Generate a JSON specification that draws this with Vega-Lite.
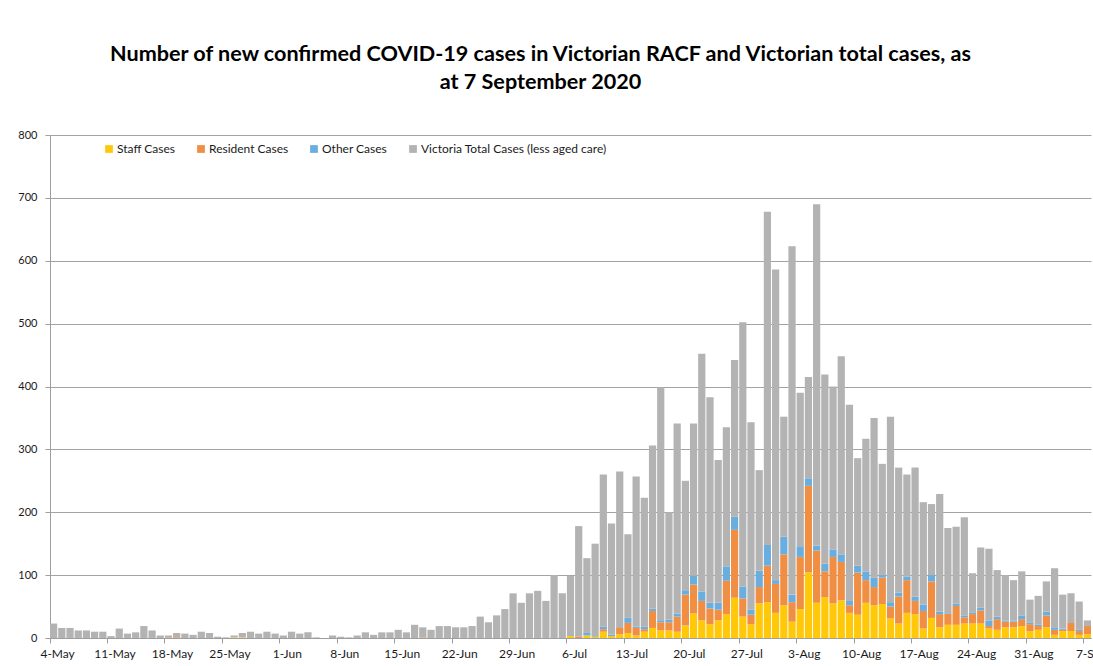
{
  "$schema": "https://vega.github.io/schema/vega-lite/v6.json",
  "width": 1041,
  "height": 503,
  "autosize": "none",
  "padding": {"left": 50, "top": 135, "right": 2, "bottom": 28},
  "background": "white",
  "config": {"view": {"stroke": null}, "font": "Lato"},
  "title": {
    "text": ["Number of new confirmed COVID-19 cases in Victorian RACF and Victorian total cases, as", "at 7 September 2020"],
    "fontSize": 21.6,
    "fontWeight": "bold",
    "font": "Lato",
    "color": "#000000",
    "anchor": "middle",
    "dx": -30,
    "offset": 35,
    "lineHeight": 28
  },
  "datasets": {
    "series": [
      {"key": "staff", "label": "Staff Cases", "rank": 1},
      {"key": "resident", "label": "Resident Cases", "rank": 2},
      {"key": "other", "label": "Other Cases", "rank": 3},
      {"key": "vic", "label": "Victoria Total Cases (less aged care)", "rank": 4}
    ],
    "cases": [
      {"d": "4-May", "staff": 0, "resident": 0, "other": 0, "vic": 23},
      {"d": "5-May", "staff": 0, "resident": 0, "other": 0, "vic": 16},
      {"d": "6-May", "staff": 0, "resident": 0, "other": 0, "vic": 16},
      {"d": "7-May", "staff": 0, "resident": 0, "other": 0, "vic": 12},
      {"d": "8-May", "staff": 0, "resident": 0, "other": 0, "vic": 12},
      {"d": "9-May", "staff": 0, "resident": 0, "other": 0, "vic": 10},
      {"d": "10-May", "staff": 0, "resident": 0, "other": 0, "vic": 10},
      {"d": "11-May", "staff": 0, "resident": 0, "other": 0, "vic": 3},
      {"d": "12-May", "staff": 0, "resident": 0, "other": 0, "vic": 15},
      {"d": "13-May", "staff": 0, "resident": 0, "other": 0, "vic": 7},
      {"d": "14-May", "staff": 0, "resident": 0, "other": 0, "vic": 9},
      {"d": "15-May", "staff": 0, "resident": 0, "other": 0, "vic": 19},
      {"d": "16-May", "staff": 0, "resident": 0, "other": 0, "vic": 12},
      {"d": "17-May", "staff": 0, "resident": 0, "other": 0, "vic": 4},
      {"d": "18-May", "staff": 0, "resident": 1, "other": 0, "vic": 3},
      {"d": "19-May", "staff": 0, "resident": 1, "other": 0, "vic": 7},
      {"d": "20-May", "staff": 0, "resident": 0, "other": 0, "vic": 7},
      {"d": "21-May", "staff": 0, "resident": 0, "other": 0, "vic": 5},
      {"d": "22-May", "staff": 0, "resident": 0, "other": 0, "vic": 10},
      {"d": "23-May", "staff": 0, "resident": 0, "other": 0, "vic": 8},
      {"d": "24-May", "staff": 0, "resident": 0, "other": 0, "vic": 2},
      {"d": "25-May", "staff": 0, "resident": 0, "other": 0, "vic": 1},
      {"d": "26-May", "staff": 1, "resident": 0, "other": 0, "vic": 3},
      {"d": "27-May", "staff": 1, "resident": 0, "other": 0, "vic": 7},
      {"d": "28-May", "staff": 0, "resident": 0, "other": 0, "vic": 10},
      {"d": "29-May", "staff": 0, "resident": 0, "other": 0, "vic": 7},
      {"d": "30-May", "staff": 0, "resident": 0, "other": 0, "vic": 10},
      {"d": "31-May", "staff": 0, "resident": 0, "other": 0, "vic": 7},
      {"d": "1-Jun", "staff": 0, "resident": 0, "other": 0, "vic": 4},
      {"d": "2-Jun", "staff": 0, "resident": 0, "other": 0, "vic": 10},
      {"d": "3-Jun", "staff": 0, "resident": 0, "other": 0, "vic": 7},
      {"d": "4-Jun", "staff": 0, "resident": 0, "other": 0, "vic": 9},
      {"d": "5-Jun", "staff": 0, "resident": 0, "other": 0, "vic": 1},
      {"d": "6-Jun", "staff": 0, "resident": 0, "other": 0, "vic": 0},
      {"d": "7-Jun", "staff": 0, "resident": 0, "other": 0, "vic": 4},
      {"d": "8-Jun", "staff": 0, "resident": 0, "other": 0, "vic": 2},
      {"d": "9-Jun", "staff": 0, "resident": 0, "other": 0, "vic": 1},
      {"d": "10-Jun", "staff": 0, "resident": 0, "other": 0, "vic": 4},
      {"d": "11-Jun", "staff": 0, "resident": 0, "other": 0, "vic": 9},
      {"d": "12-Jun", "staff": 0, "resident": 0, "other": 0, "vic": 5},
      {"d": "13-Jun", "staff": 0, "resident": 0, "other": 0, "vic": 9},
      {"d": "14-Jun", "staff": 0, "resident": 0, "other": 0, "vic": 9},
      {"d": "15-Jun", "staff": 0, "resident": 0, "other": 0, "vic": 13},
      {"d": "16-Jun", "staff": 0, "resident": 0, "other": 0, "vic": 9},
      {"d": "17-Jun", "staff": 0, "resident": 0, "other": 0, "vic": 21},
      {"d": "18-Jun", "staff": 0, "resident": 1, "other": 0, "vic": 16},
      {"d": "19-Jun", "staff": 0, "resident": 0, "other": 0, "vic": 13},
      {"d": "20-Jun", "staff": 0, "resident": 0, "other": 0, "vic": 19},
      {"d": "21-Jun", "staff": 0, "resident": 0, "other": 0, "vic": 19},
      {"d": "22-Jun", "staff": 0, "resident": 0, "other": 0, "vic": 17},
      {"d": "23-Jun", "staff": 0, "resident": 0, "other": 0, "vic": 17},
      {"d": "24-Jun", "staff": 0, "resident": 0, "other": 0, "vic": 19},
      {"d": "25-Jun", "staff": 0, "resident": 0, "other": 0, "vic": 34},
      {"d": "26-Jun", "staff": 0, "resident": 0, "other": 0, "vic": 25},
      {"d": "27-Jun", "staff": 0, "resident": 0, "other": 0, "vic": 36},
      {"d": "28-Jun", "staff": 0, "resident": 0, "other": 0, "vic": 46},
      {"d": "29-Jun", "staff": 0, "resident": 0, "other": 0, "vic": 71},
      {"d": "30-Jun", "staff": 0, "resident": 0, "other": 0, "vic": 56},
      {"d": "1-Jul", "staff": 0, "resident": 0, "other": 0, "vic": 71},
      {"d": "2-Jul", "staff": 0, "resident": 0, "other": 0, "vic": 75},
      {"d": "3-Jul", "staff": 0, "resident": 0, "other": 0, "vic": 59},
      {"d": "4-Jul", "staff": 0, "resident": 0, "other": 0, "vic": 100},
      {"d": "5-Jul", "staff": 0, "resident": 0, "other": 0, "vic": 71},
      {"d": "6-Jul", "staff": 3, "resident": 0, "other": 0, "vic": 96},
      {"d": "7-Jul", "staff": 0, "resident": 2, "other": 0, "vic": 176},
      {"d": "8-Jul", "staff": 4, "resident": 0, "other": 4, "vic": 119},
      {"d": "9-Jul", "staff": 2, "resident": 0, "other": 1, "vic": 147},
      {"d": "10-Jul", "staff": 10, "resident": 4, "other": 4, "vic": 242},
      {"d": "11-Jul", "staff": 3, "resident": 0, "other": 2, "vic": 177},
      {"d": "12-Jul", "staff": 6, "resident": 10, "other": 0, "vic": 249},
      {"d": "13-Jul", "staff": 8, "resident": 16, "other": 8, "vic": 133},
      {"d": "14-Jul", "staff": 4, "resident": 12, "other": 2, "vic": 239},
      {"d": "15-Jul", "staff": 10, "resident": 4, "other": 4, "vic": 205},
      {"d": "16-Jul", "staff": 16, "resident": 27, "other": 4, "vic": 259},
      {"d": "17-Jul", "staff": 12, "resident": 13, "other": 2, "vic": 372},
      {"d": "18-Jul", "staff": 12, "resident": 13, "other": 4, "vic": 171},
      {"d": "19-Jul", "staff": 10, "resident": 24, "other": 5, "vic": 302},
      {"d": "20-Jul", "staff": 20, "resident": 49, "other": 7, "vic": 174},
      {"d": "21-Jul", "staff": 39, "resident": 46, "other": 14, "vic": 242},
      {"d": "22-Jul", "staff": 28, "resident": 31, "other": 15, "vic": 378},
      {"d": "23-Jul", "staff": 22, "resident": 25, "other": 9, "vic": 327},
      {"d": "24-Jul", "staff": 28, "resident": 17, "other": 11, "vic": 227},
      {"d": "25-Jul", "staff": 38, "resident": 53, "other": 23, "vic": 221},
      {"d": "26-Jul", "staff": 64, "resident": 108, "other": 21, "vic": 249},
      {"d": "27-Jul", "staff": 34, "resident": 29, "other": 19, "vic": 420},
      {"d": "28-Jul", "staff": 22, "resident": 15, "other": 8, "vic": 298},
      {"d": "29-Jul", "staff": 55, "resident": 26, "other": 26, "vic": 160},
      {"d": "30-Jul", "staff": 57, "resident": 58, "other": 33, "vic": 530},
      {"d": "31-Jul", "staff": 40, "resident": 46, "other": 6, "vic": 494},
      {"d": "1-Aug", "staff": 52, "resident": 81, "other": 28, "vic": 191},
      {"d": "2-Aug", "staff": 26, "resident": 31, "other": 12, "vic": 554},
      {"d": "3-Aug", "staff": 46, "resident": 83, "other": 17, "vic": 244},
      {"d": "4-Aug", "staff": 104, "resident": 138, "other": 12, "vic": 161},
      {"d": "5-Aug", "staff": 56, "resident": 83, "other": 8, "vic": 543},
      {"d": "6-Aug", "staff": 65, "resident": 41, "other": 12, "vic": 301},
      {"d": "7-Aug", "staff": 55, "resident": 74, "other": 12, "vic": 259},
      {"d": "8-Aug", "staff": 60, "resident": 61, "other": 12, "vic": 315},
      {"d": "9-Aug", "staff": 40, "resident": 12, "other": 7, "vic": 312},
      {"d": "10-Aug", "staff": 37, "resident": 67, "other": 11, "vic": 171},
      {"d": "11-Aug", "staff": 56, "resident": 36, "other": 14, "vic": 211},
      {"d": "12-Aug", "staff": 52, "resident": 29, "other": 15, "vic": 254},
      {"d": "13-Aug", "staff": 54, "resident": 42, "other": 4, "vic": 177},
      {"d": "14-Aug", "staff": 31, "resident": 19, "other": 7, "vic": 295},
      {"d": "15-Aug", "staff": 23, "resident": 43, "other": 6, "vic": 199},
      {"d": "16-Aug", "staff": 40, "resident": 52, "other": 6, "vic": 162},
      {"d": "17-Aug", "staff": 38, "resident": 21, "other": 7, "vic": 205},
      {"d": "18-Aug", "staff": 15, "resident": 28, "other": 10, "vic": 163},
      {"d": "19-Aug", "staff": 32, "resident": 58, "other": 10, "vic": 113},
      {"d": "20-Aug", "staff": 17, "resident": 21, "other": 4, "vic": 187},
      {"d": "21-Aug", "staff": 21, "resident": 18, "other": 2, "vic": 134},
      {"d": "22-Aug", "staff": 21, "resident": 30, "other": 4, "vic": 122},
      {"d": "23-Aug", "staff": 23, "resident": 10, "other": 3, "vic": 156},
      {"d": "24-Aug", "staff": 23, "resident": 15, "other": 2, "vic": 63},
      {"d": "25-Aug", "staff": 23, "resident": 21, "other": 4, "vic": 96},
      {"d": "26-Aug", "staff": 15, "resident": 4, "other": 9, "vic": 114},
      {"d": "27-Aug", "staff": 13, "resident": 17, "other": 4, "vic": 74},
      {"d": "28-Aug", "staff": 17, "resident": 9, "other": 2, "vic": 72},
      {"d": "29-Aug", "staff": 17, "resident": 9, "other": 2, "vic": 64},
      {"d": "30-Aug", "staff": 19, "resident": 11, "other": 6, "vic": 70},
      {"d": "31-Aug", "staff": 11, "resident": 11, "other": 2, "vic": 37},
      {"d": "1-Sep", "staff": 13, "resident": 6, "other": 2, "vic": 46},
      {"d": "2-Sep", "staff": 17, "resident": 19, "other": 6, "vic": 48},
      {"d": "3-Sep", "staff": 5, "resident": 8, "other": 4, "vic": 94},
      {"d": "4-Sep", "staff": 11, "resident": 2, "other": 2, "vic": 54},
      {"d": "5-Sep", "staff": 11, "resident": 13, "other": 0, "vic": 47},
      {"d": "6-Sep", "staff": 5, "resident": 6, "other": 2, "vic": 45},
      {"d": "7-Sep", "staff": 6, "resident": 13, "other": 0, "vic": 9}
    ]
  },
  "data": {"name": "cases"},
  "transform": [
    {"fold": ["staff", "resident", "other", "vic"], "as": ["key", "value"]},
    {"lookup": "key", "from": {"data": {"name": "series"}, "key": "key", "fields": ["label", "rank"]}}
  ],
  "mark": {"type": "bar"},
  "encoding": {
    "x": {
      "field": "d",
      "type": "ordinal",
      "sort": null,
      "scale": {"paddingInner": 0.12, "paddingOuter": 0},
      "axis": {
        "title": null,
        "values": ["4-May", "11-May", "18-May", "25-May", "1-Jun", "8-Jun", "15-Jun", "22-Jun", "29-Jun", "6-Jul", "13-Jul", "20-Jul", "27-Jul", "3-Aug", "10-Aug", "17-Aug", "24-Aug", "31-Aug", "7-Sep"],
        "labelAngle": 0,
        "bandPosition": 0,
        "labelOffset": 4,
        "tickSize": 5,
        "tickColor": "#9e9e9e",
        "domainColor": "#9e9e9e",
        "labelFontSize": 12,
        "labelColor": "#1a1a1a",
        "labelPadding": 5,
        "labelOverlap": false
      }
    },
    "y": {
      "field": "value",
      "type": "quantitative",
      "stack": "zero",
      "scale": {"domain": [0, 800], "nice": false},
      "axis": {
        "title": null,
        "values": [0, 100, 200, 300, 400, 500, 600, 700, 800],
        "grid": true,
        "gridColor": "#a3a3a3",
        "gridWidth": 1,
        "domainColor": "#9e9e9e",
        "tickColor": "#9e9e9e",
        "tickSize": 5,
        "labelFontSize": 11,
        "labelColor": "#1a1a1a",
        "labelPadding": 8
      }
    },
    "color": {
      "field": "label",
      "type": "nominal",
      "scale": {
        "domain": ["Staff Cases", "Resident Cases", "Other Cases", "Victoria Total Cases (less aged care)"],
        "range": ["#FFC90A", "#F08E44", "#6AAEDF", "#B3B3B3"]
      },
      "legend": {
        "orient": "none",
        "legendX": 53,
        "legendY": 8,
        "direction": "horizontal",
        "title": null,
        "symbolType": "square",
        "symbolSize": 60,
        "symbolStrokeWidth": 0,
        "labelFontSize": 12,
        "labelColor": "#1a1a1a",
        "labelOffset": 2,
        "labelLimit": 0,
        "columnPadding": 19
      }
    },
    "order": {"field": "rank", "type": "quantitative"}
  }
}
